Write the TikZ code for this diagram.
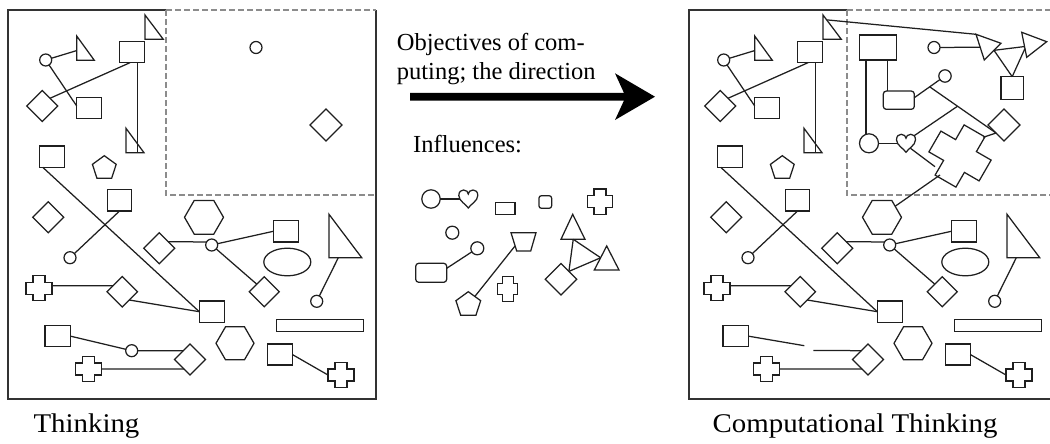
\documentclass[tikz,border=0pt]{standalone}
\usepackage{fontspec}
\setmainfont{Liberation Serif}
\newfontfamily\capfont[FakeStretch=1.07]{Liberation Serif}
\usetikzlibrary{shapes.geometric,calc}

\tikzset{
  ink/.style={draw=black!88, line width=1.25pt},
  shp/.style={ink, inner sep=0pt, outer sep=0pt},
  sq/.style 2 args={shp, rectangle, minimum width=#1, minimum height=#2},
  ci/.style={shp, circle, minimum size=#1},
  di/.style={shp, diamond, minimum width=#1, minimum height=#1},
  hexa/.style={shp, regular polygon, regular polygon sides=6, minimum size=#1},
  penta/.style={shp, regular polygon, regular polygon sides=5, minimum size=#1},
  oval/.style 2 args={shp, ellipse, minimum width=#1, minimum height=#2},
  conn/.style={ink},
  outerbox/.style={draw=black!80, line width=1.5pt},
  dashbox/.style={draw=black!45, line width=1.3pt, dash pattern=on 6pt off 3pt},
  txt/.style={inner sep=0pt, font=\fontsize{24.5}{29}\selectfont},
  lbl/.style={inner sep=0pt, font=\capfont\fontsize{27}{32}\selectfont},
  pics/rtri/.style 2 args={code={
    \draw[ink] (0,0) -- (0,#2) -- (#1,#2) -- cycle;
    \coordinate (-a) at (0,0);
    \coordinate (-c) at (0,#2);
    \coordinate (-r) at (#1,#2);
    \coordinate (-l) at (0,{0.6*#2});
  }},
  pics/plus/.style n args={3}{code={
    \draw[ink] ({-#3/2},{-#2/2}) -- ({#3/2},{-#2/2}) -- ({#3/2},{-#3/2}) -- ({#1/2},{-#3/2})
      -- ({#1/2},{#3/2}) -- ({#3/2},{#3/2}) -- ({#3/2},{#2/2}) -- ({-#3/2},{#2/2})
      -- ({-#3/2},{#3/2}) -- ({-#1/2},{#3/2}) -- ({-#1/2},{-#3/2}) -- ({-#3/2},{-#3/2}) -- cycle;
    \coordinate (-e) at ({#1/2},0);
    \coordinate (-w) at ({-#1/2},0);
  }},
  pics/heart/.style={code={
    \draw[ink] (0,9) .. controls (-2,5.5) and (-9.5,2) .. (-9.5,-3.5)
      .. controls (-9.5,-7.5) and (-7,-9) .. (-4.75,-9)
      .. controls (-2,-9) and (0,-7) .. (0,-5)
      .. controls (0,-7) and (2,-9) .. (4.75,-9)
      .. controls (7,-9) and (9.5,-7.5) .. (9.5,-3.5)
      .. controls (9.5,2) and (2,5.5) .. (0,9) -- cycle;
    \coordinate (-w) at (-8.8,0);
    \coordinate (-ne) at (8,-7.5);
    \coordinate (-se) at (4.5,5);
  }}
}

% the shapes both boxes have in common; #1 prefixes every name
\newcommand\thinkset[1]{%
  \node[ci=12] (#1c1) at (45.7,60) {};
  \pic (#1t1) at (76.7,36) {rtri={17.6}{24.3}};
  \node[sq={25}{21}] (#1s1) at (131.8,52.2) {};
  \pic (#1t2) at (145,15) {rtri={18.3}{24.3}};
  \node[di=31] (#1d1) at (42.3,106) {};
  \node[sq={24.6}{21}] (#1s2) at (89,107.8) {};
  \pic (#1t3) at (126,128.3) {rtri={18}{24.4}};
  \node[sq={25}{21.3}] (#1s3) at (51.8,156.7) {};
  \node[penta=25] (#1p1) at (104.3,168.2) {};
  \node[sq={24.4}{21.7}] (#1s4) at (119.5,200.2) {};
  \node[di=31] (#1d2) at (48.3,217.3) {};
  \node[ci=12] (#1c2) at (70,257.7) {};
  \node[hexa=39] (#1h1) at (204,217.3) {};
  \node[di=31] (#1d3) at (159.3,248.3) {};
  \node[ci=12] (#1c3) at (211.7,245) {};
  \node[sq={25}{21.3}] (#1s6) at (285.8,231.3) {};
  \node[oval={47}{27.6}] (#1e1) at (287.3,262) {};
  \node[di=30] (#1d4) at (264.3,291.7) {};
  \pic (#1t4) at (329,214.3) {rtri={32.7}{43.4}};
  \node[ci=12] (#1c4) at (316.7,301.3) {};
  \pic (#1x1) at (39,288.3) {plus={26}{25}{12}};
  \node[di=30.5] (#1d5) at (122.3,291.7) {};
  \node[sq={25}{21.3}] (#1s7) at (211.8,311.7) {};
  \node[sq={86.6}{12.4}] (#1r1) at (320,325.5) {};
  \node[hexa=38] (#1h2) at (235,343.3) {};
  \node[sq={25}{21}] (#1s8) at (279.8,354.5) {};
  \pic (#1x2) at (341,375) {plus={26}{25}{12}};
  \node[sq={25.7}{21}] (#1s5) at (57.8,336.2) {};
  \node[di=31] (#1d6) at (190,359.5) {};
  \pic (#1x3) at (88.3,369) {plus={26}{25}{12}};
  \node[ci=12] (#1c6) at (256,47.5) {};
  \node[di=32] (#1d7) at (326,125) {};
  % links
  \draw[conn] (#1c1) -- (#1t1-l);
  \draw[conn] ([xshift=-1.8pt]#1s1.south) -- (#1d1.north east);
  \draw[conn] (#1c1) -- ([yshift=1.8pt]#1s2.west);
  \draw[conn] ([xshift=5.9pt]#1s1.south) -- ([xshift=11.7pt]#1t3-c);
  \draw[conn] ([xshift=-9pt]#1s3.south) -- (#1s7.west);
  \draw[conn] (#1s4.south) -- (#1c2);
  \draw[conn] (#1d3.37) -- (#1c3.150);
  \draw[conn] (#1c3) -- (#1s6.west);
  \draw[conn] (#1c3) -- (#1d4.north west);
  \draw[conn] ([xshift=9.3pt]#1t4-c) -- (#1c4);
  \draw[conn] ([yshift=2.6pt]#1x1-e) -- (#1d5.147);
  \draw[conn] (#1d5.-50) -- (#1s7.west);
  \draw[conn] (#1s8.east) -- (#1x2-w);
  \draw[conn] (#1x3-e) -- (#1d6.-122);
}

\begin{document}
\begin{tikzpicture}[x=1pt,y=-1pt]
\useasboundingbox (0,0) rectangle (1050,444);

% ---------- Thinking ----------
\draw[outerbox] (166,10) -- (8,10) -- (8,399) -- (376,399) -- (376,10);
\draw[dashbox] (166,10) -- (376,10);
\draw[dashbox] (166,10) -- (166,195) -- (376,195);
\thinkset{L}
\node[ci=12] (Lc5) at (131.7,350.7) {};
\draw[conn] (Ls5.east) -- (Lc5);
\draw[conn] (Lc5) -- (Ld6.127);
\node[lbl, anchor=base west] (thinking) at (33.3,432.7) {Thinking};

% ---------- middle: direction and influences ----------
\node[txt, anchor=base west] (obj1) at (396.7,50.3) {Objectives of com-};
\node[txt, anchor=base west] (obj2) at (396.7,79.3) {puting; the direction};
\fill[black] (410,93) -- (624,93) -- (615,73.3) -- (655,96.7) -- (615,120) -- (624,100.5) -- (410,100.5) -- cycle;
\node[txt, anchor=base west] (infl) at (413,152) {Influences:};

\node[ci=18.4] (M1) at (431,199) {};
\pic (M2) at (468.3,199) {heart};
\draw[conn] (M1) -- (M2-w);
\node[sq={19.3}{12}] (M3) at (505.3,208.3) {};
\node[sq={12.7}{12.6}, rounded corners=2.5pt] (M4) at (545.3,202) {};
\pic (M5) at (600,201.7) {plus={25.7}{25.3}{12}};
\node[ci=13] (M6) at (452.3,232.7) {};
\node[ci=13] (M7) at (477.3,248.3) {};
\node[sq={31}{19}, rounded corners=3pt] (M8) at (431.2,272.8) {};
\draw[conn] (M7) -- ([yshift=-5pt]M8.north east);
\draw[ink] (511,232.7) -- (536,232.7) -- (530.7,251) -- (516.7,251) -- cycle;
\coordinate (M9) at (515,246);
\node[penta=26] (M10) at (468.3,304.7) {};
\draw[conn] (M9) -- (M10);
\pic (M11) at (507.7,289) {plus={20}{25.7}{11}};
\coordinate (MT1a) at (572.7,214.3);
\coordinate (MT1b) at (561,239.3);
\coordinate (MT1c) at (585,239.3);
\draw[ink] (MT1a) -- (MT1b) -- (MT1c) -- cycle;
\coordinate (MT2a) at (606.7,246);
\coordinate (MT2b) at (594.3,270);
\coordinate (MT2c) at (619,270);
\draw[ink] (MT2a) -- (MT2b) -- (MT2c) -- cycle;
\node[di=31.6] (M12) at (561,279.3) {};
\coordinate (MT1m) at ($(MT1b)!0.51!(MT1c)$);
\coordinate (MT2m) at ($(MT2a)!0.49!(MT2b)$);
\draw[conn] (MT1m) -- (MT2m);
\draw[conn] (MT1m) -- (M12.north east);
\draw[conn] (M12.north east) -- (MT2m);

% ---------- Computational Thinking ----------
\draw[outerbox] (847,10) -- (689,10) -- (689,399) -- (1050,399);
\draw[dashbox] (847,10) -- (1050,10);
\draw[dashbox] (847,10) -- (847,195) -- (1050,195);
\begin{scope}[shift={(678,0)}]
  \thinkset{R}
\end{scope}
\coordinate (gapL) at (804.3,345.7);
\coordinate (gapR) at (813.3,350.5);
\draw[conn] (Rs5.east) -- (gapL);
\draw[conn] (gapR) -- (Rd6.127);

\coordinate (T4a) at (976,34.3);
\coordinate (T4b) at (1001,43.3);
\coordinate (T4c) at (984.3,60);
\draw[ink] (T4a) -- (T4b) -- (T4c) -- cycle;
\coordinate (T5a) at (1021.7,32.3);
\coordinate (T5b) at (1046.7,41.7);
\coordinate (T5c) at (1026.7,57.3);
\draw[ink] (T5a) -- (T5b) -- (T5c) -- cycle;
\node[sq={22.3}{22.6}] (S9) at (1012.2,88) {};
\draw[conn] ($(Rt2-a)!0.2!(Rt2-r)$) -- (T4a);
\draw[conn] (Rc6.east) -- ($(T4a)!0.5!(T4c)$);
\draw[conn] ($(T4b)!0.42!(T4c)$) -- ($(T5a)!0.57!(T5c)$);
\draw[conn] ($(T4b)!0.42!(T4c)$) -- (S9.north);
\draw[conn] ($(T5a)!0.65!(T5c)$) -- (S9.north);

\node[sq={37.4}{25}] (B1) at (878,47.5) {};
\node[sq={31}{18.3}, rounded corners=3pt] (RR) at (898.8,100.2) {};
\node[ci=19] (C7) at (869,143.3) {};
\pic (HT) at (906,143.3) {heart};
\node[ci=12.4] (C8) at (945,76) {};
\pic[rotate=-30] (BX) at (960,156) {plus={58}{58}{24}};
\coordinate (BXh) at (935,166.7);
\coordinate (BXg) at (940,175);
\coordinate (BXd) at (983.3,137.3);

\draw[conn] ([xshift=-12pt]B1.south) -- ([xshift=-12pt]B1.south |- C7.north);
\draw[conn] ([xshift=9.3pt]B1.south) -- ([xshift=9.3pt]B1.south |- RR.north);
\draw[conn] (C7) -- (HT-w);
\draw[conn] ([yshift=2.5pt]RR.east) -- coordinate[pos=0.6] (J1) (C8);
\draw[conn] (J1) -- coordinate[pos=0.42] (J2) (Rd7.south west);
\draw[conn] (HT-ne) -- (J2);
\draw[conn] (HT-se) -- (BXh);
\draw[conn] (BXg) -- (Rh1.40);
\draw[conn] (BXd) -- (Rd7.south west);

\node[lbl, anchor=base east] (ctlabel) at (997.7,432.7) {Computational Thinking};
\end{tikzpicture}
\end{document}
